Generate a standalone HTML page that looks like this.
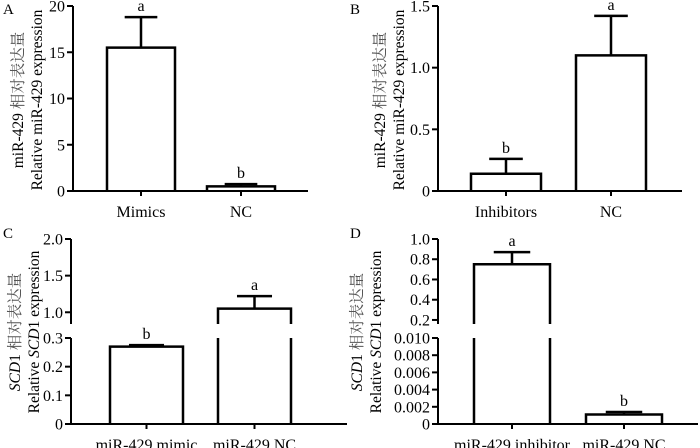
<!DOCTYPE html>
<html><head><meta charset="utf-8"><style>
body{margin:0;background:#fff}
svg{display:block;font-family:"Liberation Serif","Noto Serif CJK SC",serif}
</style></head><body>
<svg id="c" width="700" height="448" viewBox="0 0 700 448" xmlns="http://www.w3.org/2000/svg"></svg>
<script>
const catsA=["Mimics","NC"], valsA=[15.5,0.5], errA=[18.8,0.75], sigA=["a","b"], ticksA=[0,5,10,15,20];
const catsB=["Inhibitors","NC"], valsB=[0.14,1.1], errB=[0.26,1.42], sigB=["b","a"], ticksB=[0,0.5,1.0,1.5];
const catsC=["miR-429 mimic","miR-429 NC"], valsC=[0.27,1.05], errC=[0.275,1.22], sigC=["b","a"], ticksCLow=[0,0.1,0.2,0.3], ticksCHigh=[1.0,1.5,2.0];
const catsD=["miR-429 inhibitor","miR-429 NC"], valsD=[0.75,0.0011], errD=[0.87,0.0014], sigD=["a","b"], ticksDLow=[0,0.002,0.004,0.006,0.008,0.010], ticksDHigh=[0.2,0.4,0.6,0.8,1.0];
const NS="http://www.w3.org/2000/svg", svg=document.getElementById('c');
const FS=16;
function el(t,a,p){const e=document.createElementNS(NS,t);for(const k in a)e.setAttribute(k,a[k]);(p||svg).appendChild(e);return e;}
function fmt(v,d){return v===0?"0":v.toFixed(d);}
function panel(o){
  const g=el('g',{});
  
  
  const segs=o.segs;
  function y(v){for(const s of segs){if(v<=s.d1+1e-12)return s.p0+(Math.max(v,s.d0)-s.d0)/(s.d1-s.d0)*(s.p1-s.p0);}const s=segs[segs.length-1];return s.p0+(v-s.d0)/(s.d1-s.d0)*(s.p1-s.p0);}
  function segOf(v){for(let i=0;i<segs.length;i++)if(v<=segs[i].d1+1e-12)return i;return segs.length-1;}
  const t=el('text',{x:o.lx,y:o.ly,'font-size':15},g);t.textContent=o.id;
  
  segs.forEach((s,i)=>{
    const l=el('line',{x1:o.ax,x2:o.ax,y1:s.p0,y2:s.p1,stroke:'#000','stroke-width':2},g);
    
    s.ticks.forEach(v=>{
      const yy=s.p0+(v-s.d0)/(s.d1-s.d0)*(s.p1-s.p0);
      const tk=el('line',{x1:o.ax-6,x2:o.ax,y1:yy,y2:yy,stroke:'#000','stroke-width':2},g);
      
      const tl=el('text',{x:o.ax-8,y:yy+5.5,'font-size':FS,'text-anchor':'end'},g);
      tl.textContent=fmt(v,s.dec);
      
    });
  });
  const y0=segs[0].p0;
  const xa=el('line',{x1:o.ax-1,x2:o.xend,y1:y0,y2:y0,stroke:'#000','stroke-width':2},g);
  
  o.cats.forEach((c,i)=>{
    const x0=o.bx[i], x1=x0+o.bw, cx=(x0+x1)/2, v=o.vals[i], e=o.errs[i];
    const vt=y(v), si=segOf(v);
    let d='M'+x0+','+y0;
    for(let k=0;k<si;k++){d+=' L'+x0+','+segs[k].p1+' M'+x0+','+segs[k+1].p0;}
    d+=' L'+x0+','+vt+' L'+x1+','+vt;
    for(let k=si;k>0;k--){d+=' L'+x1+','+segs[k].p0+' M'+x1+','+segs[k-1].p1;}
    d+=' L'+x1+','+y0;
    const b=el('path',{d:d,fill:'none',stroke:'#000','stroke-width':2.5},g);
    
    const ey=y(e);
    const eb=el('path',{d:'M'+cx+','+vt+' L'+cx+','+ey+' M'+(cx-o.bw*0.24)+','+ey+' L'+(cx+o.bw*0.24)+','+ey,stroke:'#000','stroke-width':2.5,fill:'none'},g);
    
    const sg=el('text',{x:cx,y:ey-6,'font-size':FS,'text-anchor':'middle'},g);sg.textContent=o.sig[i];
    
    const xt=el('line',{x1:cx,x2:cx,y1:y0,y2:y0+5,stroke:'#000','stroke-width':2},g);
    
    const xl=el('text',{x:cx,y:y0+26,'font-size':FS,'text-anchor':'middle'},g);xl.textContent=c;
    
  });
  const cy=o.tcy;
  const t1=el('text',{transform:'translate('+o.tx1+','+cy+') rotate(-90)','font-size':15.5,'text-anchor':'middle'},g);
  const t2=el('text',{transform:'translate('+o.tx2+','+cy+') rotate(-90)','font-size':15.5,'text-anchor':'middle'},g);
  if(o.scd){t1.innerHTML='<tspan font-style="italic">SCD</tspan>1 <tspan fill="#555">相对表达量</tspan>';t2.innerHTML='Relative <tspan font-style="italic">SCD</tspan>1 expression';}
  else{t1.innerHTML='miR-429 <tspan fill="#555">相对表达量</tspan>';t2.textContent='Relative miR-429 expression';}
  
  
}
panel({id:'A',lx:3,ly:14,ax:73,xend:308,cats:catsA,vals:valsA,errs:errA,sig:sigA,bx:[107,207],bw:68,
  segs:[{d0:0,d1:20,p0:191,p1:6,ticks:ticksA,dec:0}],tx1:23,tx2:42,tcy:100});
panel({id:'B',lx:350,ly:14,ax:438,xend:682,cats:catsB,vals:valsB,errs:errB,sig:sigB,bx:[471,576],bw:70,
  segs:[{d0:0,d1:1.5,p0:191,p1:6,ticks:ticksB,dec:1}],tx1:385,tx2:404,tcy:100});
panel({id:'C',lx:3,ly:238,ax:71,xend:347,cats:catsC,vals:valsC,errs:errC,sig:sigC,bx:[110,218],bw:73,scd:true,
  segs:[{d0:0,d1:0.3,p0:424,p1:338,ticks:ticksCLow,dec:1},{d0:0.84,d1:2.0,p0:324,p1:239,ticks:ticksCHigh,dec:1}],tx1:20,tx2:39,tcy:332});
panel({id:'D',lx:350,ly:238,ax:438,xend:698,cats:catsD,vals:valsD,errs:errD,sig:sigD,bx:[474,586],bw:76,scd:true,
  segs:[{d0:0,d1:0.010,p0:424,p1:338,ticks:ticksDLow,dec:3},{d0:0.16,d1:1.0,p0:324,p1:239,ticks:ticksDHigh,dec:1}],tx1:362,tx2:381,tcy:332});
</script>
</body></html>
